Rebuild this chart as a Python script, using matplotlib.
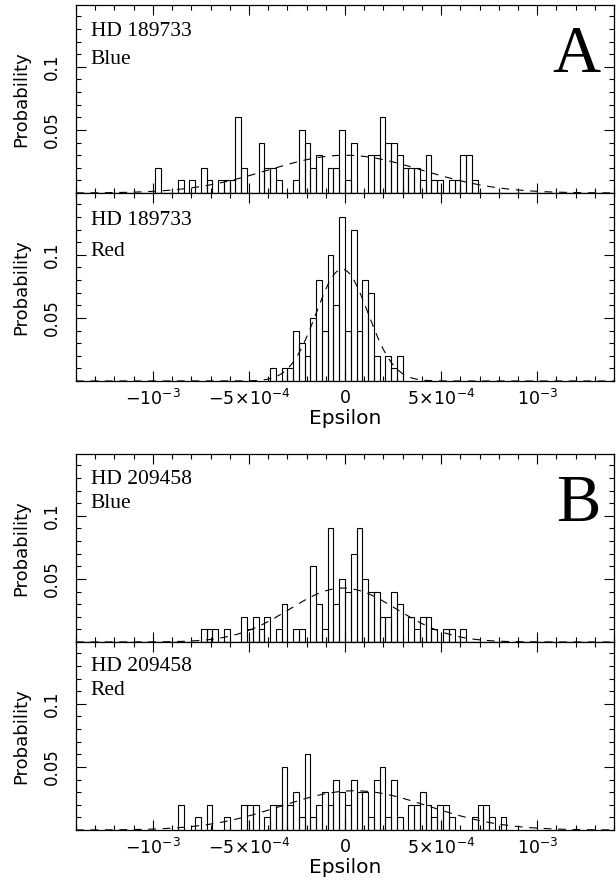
import numpy as np
import matplotlib
matplotlib.use("Agg")
import matplotlib.pyplot as plt
from matplotlib.ticker import MultipleLocator, FixedLocator, FixedFormatter

# ---------------- data ----------------
BIN_WIDTH = 3e-5  # histogram bin width in epsilon
# bin index k means the bin [k*BIN_WIDTH, (k+1)*BIN_WIDTH]

# HD 189733, Blue
a_blue_bins = [-33, -29, -27, -25, -24, -22, -21, -20, -19, -18, -15, -14, -13, -12,
               -9, -8, -7, -6, -5, -3, -2, -1, 0, 1, 4, 5, 6, 7, 8, 9, 10, 11, 12,
               13, 14, 15, 16, 18, 19, 20, 21, 22]
a_blue_prob = [0.02, 0.01, 0.01, 0.02, 0.01, 0.01, 0.01, 0.01, 0.06, 0.02, 0.04, 0.02, 0.02, 0.01,
               0.01, 0.05, 0.04, 0.02, 0.03, 0.02, 0.02, 0.05, 0.01, 0.04, 0.03, 0.03, 0.06, 0.04, 0.04, 0.03, 0.02, 0.02, 0.02,
               0.01, 0.03, 0.01, 0.01, 0.01, 0.01, 0.03, 0.03, 0.01]

# HD 189733, Red
a_red_bins = [-13, -11, -10, -9, -8, -7, -6, -5, -4, -3, -2, -1, 0, 1, 2, 3, 4, 5, 7, 8, 9]
a_red_prob = [0.01, 0.01, 0.01, 0.04, 0.03, 0.02, 0.05, 0.08, 0.04, 0.10, 0.06, 0.13, 0.04, 0.12,
              0.04, 0.08, 0.07, 0.02, 0.02, 0.01, 0.02]

# HD 209458, Blue
b_blue_bins = [-25, -24, -23, -21, -18, -17, -16, -15, -14, -12, -11, -9, -8, -6, -5, -4, -3, -2,
               -1, 0, 1, 2, 3, 4, 5, 6, 7, 8, 9, 11, 12, 13, 14, 15, 17, 18, 20]
b_blue_prob = [0.01, 0.01, 0.01, 0.01, 0.02, 0.01, 0.02, 0.01, 0.02, 0.01, 0.03, 0.01, 0.01, 0.06,
               0.03, 0.01, 0.09, 0.03, 0.05, 0.04, 0.07, 0.09, 0.05, 0.04, 0.04, 0.02, 0.02, 0.04,
               0.03, 0.02, 0.01, 0.02, 0.02, 0.01, 0.01, 0.01, 0.01]

# HD 209458, Red
b_red_bins = [-29, -26, -24, -21, -18, -17, -16, -14, -13, -12, -11, -10, -9, -8, -7, -6, -5, -4,
              -3, -2, -1, 0, 1, 2, 3, 4, 5, 6, 7, 8, 9, 11, 12, 13, 14, 15, 16, 17, 18, 22, 23, 24, 25, 27]
b_red_prob = [0.02, 0.01, 0.02, 0.01, 0.02, 0.02, 0.02, 0.01, 0.02, 0.02, 0.05, 0.02, 0.03, 0.01,
              0.06, 0.01, 0.02, 0.03, 0.02, 0.04, 0.03, 0.02, 0.04, 0.03, 0.03, 0.01, 0.04, 0.05,
              0.01, 0.04, 0.01, 0.02, 0.02, 0.03, 0.02, 0.01, 0.02, 0.02, 0.01, 0.01, 0.02, 0.02, 0.01, 0.01]

# Gaussian fits (mean, sigma)
a_blue_fit = (0.0, 4.0e-4)
a_red_fit = (-1.5e-5, 1.35e-4)
b_blue_fit = (-1.0e-5, 2.8e-4)
b_red_fit = (5.0e-5, 3.85e-4)

star_names = ["HD 189733", "HD 189733", "HD 209458", "HD 209458"]
channels = ["Blue", "Red", "Blue", "Red"]
group_letters = ["A", None, "B", None]

x_tick_values = [-1e-3, -5e-4, 0, 5e-4, 1e-3]
x_tick_labels = [r"$-10^{-3}$", r"$-5\!\times\!10^{-4}$", "0", r"$5\!\times\!10^{-4}$", r"$10^{-3}$"]
y_tick_values = [0.05, 0.1]
y_tick_labels = ["0.05", "0.1"]

# ---------------- figure ----------------
W, H = 616, 884
fig = plt.figure(figsize=(W / 100, H / 100), dpi=100)
plt.rcParams['mathtext.fontset'] = 'dejavusans'

left_px, right_px = 76, 614
panels_px = [(5, 193), (193, 381), (454, 642), (642, 830)]
# baselines of the two label lines, in pixels below each panel's top edge
label_baselines_px = [(31, 59), (32, 63), (30, 54), (29, 53)]

panel_data = [
    (a_blue_bins, a_blue_prob, a_blue_fit),
    (a_red_bins, a_red_prob, a_red_fit),
    (b_blue_bins, b_blue_prob, b_blue_fit),
    (b_red_bins, b_red_prob, b_red_fit),
]

sans = "DejaVu Sans"
serif = "Liberation Serif"

for i, ((top, bot), (bins, prob, fit)) in enumerate(zip(panels_px, panel_data)):
    hpx = bot - top
    ax = fig.add_axes([left_px / W, 1 - bot / H, (right_px - left_px) / W, hpx / H])
    lefts = np.array(bins) * BIN_WIDTH
    ax.bar(lefts, prob, width=BIN_WIDTH, align="edge", fill=False,
           edgecolor="black", linewidth=0.8)
    mu, sig = fit
    xs = np.linspace(-1.4e-3, 1.4e-3, 600)
    ys = BIN_WIDTH / (sig * np.sqrt(2 * np.pi)) * np.exp(-0.5 * ((xs - mu) / sig) ** 2)
    ax.plot(xs, ys, color="black", linewidth=0.8, dashes=(7, 6))

    ax.set_xlim(-1.4e-3, 1.4e-3)
    ax.set_ylim(0, 0.149)
    ax.xaxis.set_major_locator(FixedLocator(x_tick_values))
    ax.xaxis.set_minor_locator(MultipleLocator(1e-4))
    ax.yaxis.set_major_locator(FixedLocator(y_tick_values))
    ax.yaxis.set_minor_locator(MultipleLocator(0.01))
    ax.tick_params(which="both", direction="in", top=True, right=True, width=0.8, color="black")
    ax.tick_params(which="major", length=7)
    ax.tick_params(which="minor", length=3.5)
    ax.tick_params(axis="y", pad=11)
    for s in ax.spines.values():
        s.set_linewidth(0.9)

    ax.yaxis.set_major_formatter(FixedFormatter(y_tick_labels))
    for lab in ax.get_yticklabels():
        lab.set_rotation(90)
        lab.set_va("center")
        lab.set_fontsize(12)
        lab.set_family(sans)
    ax.set_ylabel("Probability", fontsize=13, family=sans, labelpad=9)

    if i in (1, 3):
        ax.xaxis.set_major_formatter(FixedFormatter(x_tick_labels))
        ax.tick_params(axis="x", labelsize=12.5, pad=6)
        ax.set_xlabel("Epsilon", fontsize=14.5, family=sans, labelpad=0)
    else:
        ax.set_xticklabels([])

    b1, b2 = label_baselines_px[i]
    ax.text(0.027, 1 - b1 / hpx, star_names[i], transform=ax.transAxes,
            family=serif, fontsize=15.5, va="baseline", ha="left")
    ax.text(0.027, 1 - b2 / hpx, channels[i], transform=ax.transAxes,
            family=serif, fontsize=15.5, va="baseline", ha="left")
    if group_letters[i]:
        ax.text(0.975, 0.645, group_letters[i], transform=ax.transAxes,
                family=serif, fontsize=48, va="baseline", ha="right")

fig.savefig("out.png", dpi=100)
